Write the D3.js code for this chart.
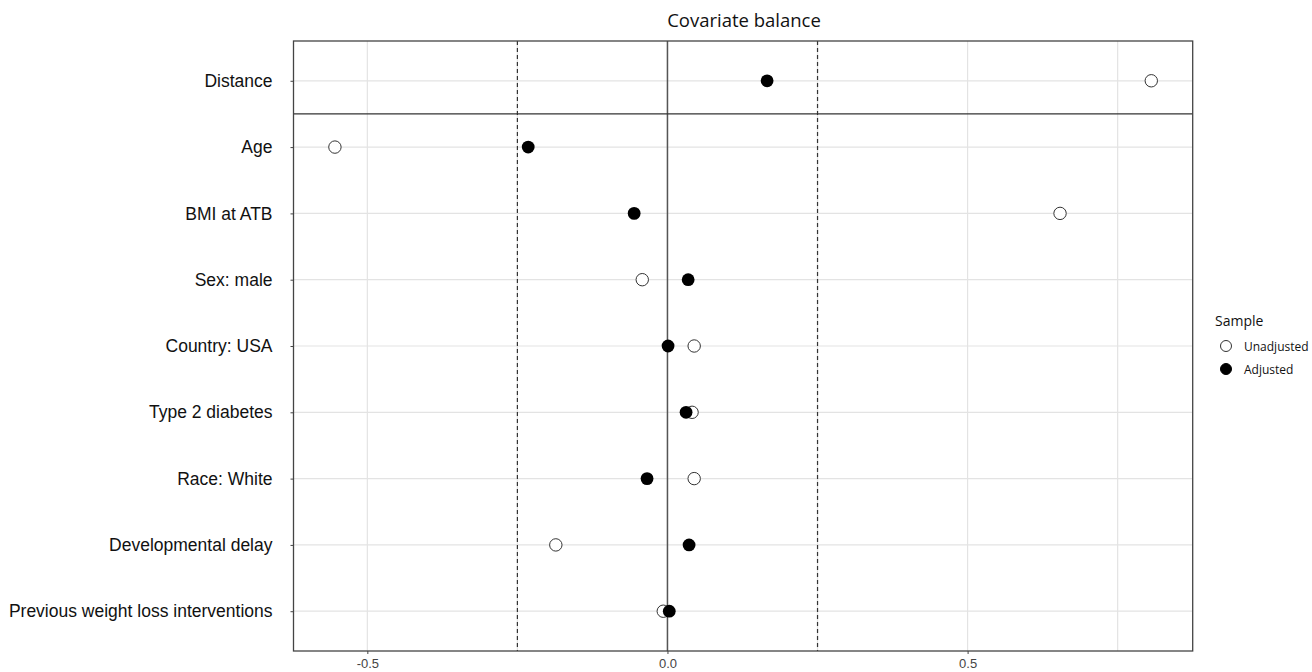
<!DOCTYPE html>
<html><head><meta charset="utf-8">
<script src="https://cdn.jsdelivr.net/npm/d3@7"></script>
<style>body{margin:0;background:#fff;font-family:"Open Sans","Noto Sans",sans-serif;}</style>
</head><body><svg id="c" width="1312" height="672"></svg>
<script>
const covariates = ["Distance","Age","BMI at ATB","Sex: male","Country: USA","Type 2 diabetes","Race: White","Developmental delay","Previous weight loss interventions"];
const unadjusted = [0.806,-0.554,0.654,-0.042,0.0445,0.041,0.0445,-0.186,-0.007];
const adjusted = [0.166,-0.232,-0.0555,0.0345,0.001,0.031,-0.034,0.036,0.003];
const xTicks = [-0.5,0,0.5];
const minorTicks = [-0.25,0.25,0.75];
const thresholds = [-0.25,0.25];
const sampleLabels = ["Unadjusted","Adjusted"];

const svg = d3.select("#c");
const L=293.5,R=1192.7,T=41,B=651;
const x = d3.scaleLinear().domain([-0.623,0.875]).range([L,R]);
const y = d3.scalePoint().domain(covariates).range([T,B]).padding(0.6);

// minor & major vertical grid
svg.append("g").selectAll("line").data(minorTicks.concat(xTicks)).join("line")
  .attr("x1",d=>x(d)).attr("x2",d=>x(d)).attr("y1",T).attr("y2",B)
  .attr("stroke","#e3e3e3").attr("stroke-width",1.2);
// horizontal grid
svg.append("g").selectAll("line").data(covariates).join("line")
  .attr("x1",L).attr("x2",R).attr("y1",d=>y(d)).attr("y2",d=>y(d))
  .attr("stroke","#e3e3e3").attr("stroke-width",1.2);
// zero line
svg.append("line").attr("x1",x(0)).attr("x2",x(0)).attr("y1",T).attr("y2",B)
  .attr("stroke","#555").attr("stroke-width",1.5);
// threshold lines
svg.append("g").selectAll("line").data(thresholds).join("line")
  .attr("x1",d=>x(d)).attr("x2",d=>x(d)).attr("y1",T).attr("y2",B)
  .attr("stroke","#333").attr("stroke-width",1.2).attr("stroke-dasharray","4,3");
// separator line below Distance
const sepY = (y(covariates[0])+y(covariates[1]))/2;
svg.append("line").attr("x1",L).attr("x2",R).attr("y1",sepY).attr("y2",sepY)
  .attr("stroke","#333").attr("stroke-width",1.3);
// panel border
svg.append("rect").attr("x",L).attr("y",T).attr("width",R-L).attr("height",B-T)
  .attr("fill","none").attr("stroke","#444").attr("stroke-width",1.3);

// axes
const xAxis = d3.axisBottom(x).tickValues(xTicks).tickSize(3);
const gx = svg.append("g").attr("transform",`translate(0,${B})`).call(xAxis);
gx.select(".domain").remove();
gx.selectAll(".tick line").attr("stroke","#444");
gx.selectAll("text").attr("fill","#444").attr("font-size",13).attr("dy","0.85em")
  .text(d=>d3.format(".1f")(d).replace("−","-"));
const yAxis = d3.axisLeft(y).tickSize(3).tickPadding(18);
const gy = svg.append("g").attr("transform",`translate(${L},0)`).call(yAxis);
gy.select(".domain").remove();
gy.selectAll(".tick line").attr("stroke","#444");
gy.selectAll("text").attr("fill","#111").attr("font-size",17.5);

// points
const pts = svg.append("g");
pts.selectAll("circle.u").data(covariates).join("circle").attr("class","u")
  .attr("cx",(d,i)=>x(unadjusted[i])).attr("cy",d=>y(d)).attr("r",6.2)
  .attr("fill","#fff").attr("stroke","#333").attr("stroke-width",1);
pts.selectAll("circle.a").data(covariates).join("circle").attr("class","a")
  .attr("cx",(d,i)=>x(adjusted[i])).attr("cy",d=>y(d)).attr("r",6.4)
  .attr("fill","#000");

// title
svg.append("text").attr("x",744).attr("y",27).attr("text-anchor","middle")
  .attr("font-size",18.5).attr("fill","#111").text("Covariate balance");

// legend
const lg = svg.append("g");
lg.append("text").attr("x",1215).attr("y",326).attr("font-size",14).attr("fill","#111").text("Sample");
sampleLabels.forEach((s,i)=>{
  const yy = 346+i*23;
  lg.append("circle").attr("cx",1226).attr("cy",yy).attr("r",5.5)
    .attr("fill",i===0?"#fff":"#000").attr("stroke",i===0?"#333":"#000").attr("stroke-width",1);
  lg.append("text").attr("x",1244).attr("y",yy+4.5).attr("font-size",12).attr("fill","#111").text(s);
});
</script></body></html>
